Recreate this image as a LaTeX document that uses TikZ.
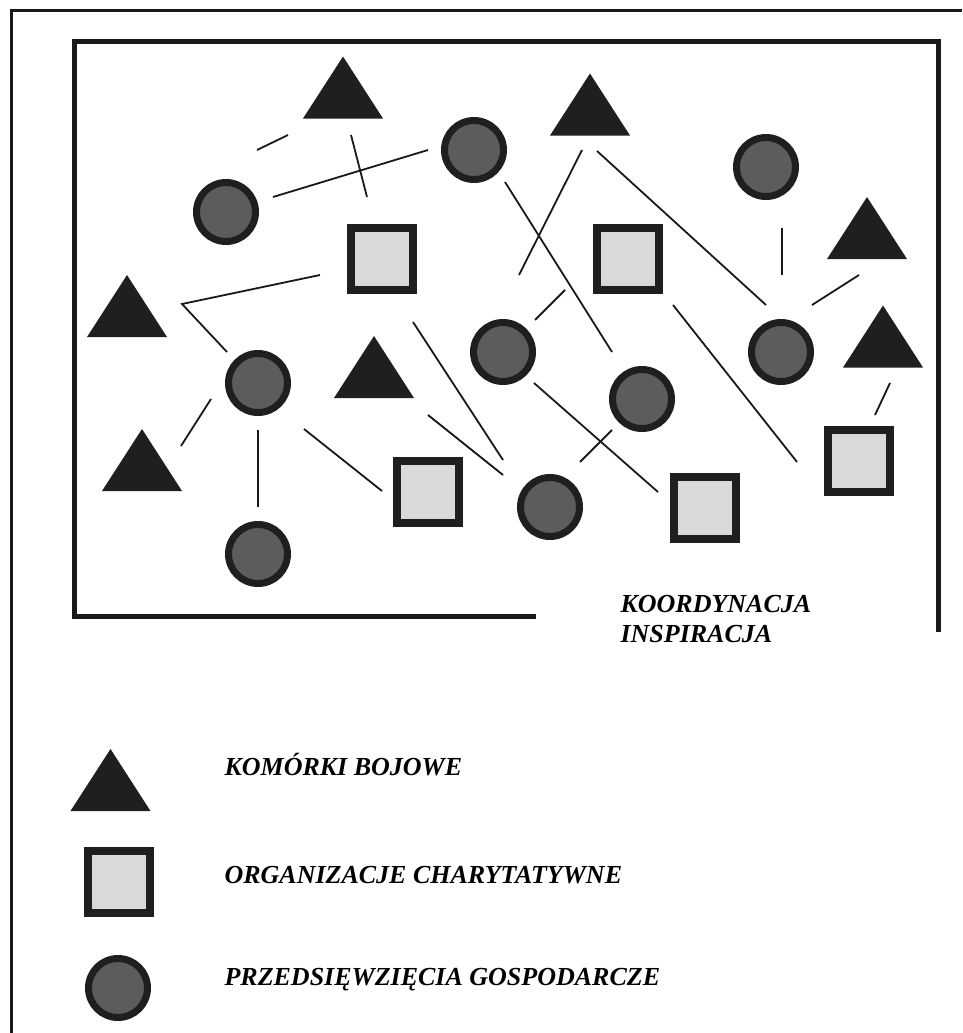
\documentclass[tikz,border=0pt]{standalone}
\usepackage{fontspec}
\setmainfont{Liberation Serif}
\usepackage{tikz}
\usetikzlibrary{positioning,calc}

\begin{document}
\begin{tikzpicture}[
  x=1pt, y=-1pt,
  outer/.style={line width=3pt, draw=black!90},
  frame/.style={line width=5pt, draw=black!90},
  link/.style={line width=1.8pt, draw=black!90},
  przed/.style={circle, draw=black!88, line width=7pt, fill=black!64,
               minimum size=59pt, inner sep=0pt},
  org/.style={rectangle, draw=black!88, line width=8pt, fill=black!15,
               minimum size=62pt, inner sep=0pt},
  pics/bojowa/.style={code={
      \fill[black!88] (-40,31) -- (40,31) -- (0,-31) -- cycle;
      \coordinate (-c) at (0,0);}},
  label/.style={anchor=base west, align=left,
               font=\fontsize{26}{30}\selectfont\bfseries\itshape}
]
\useasboundingbox (0,0) rectangle (962,1033);

% frames
\draw[outer] (11,1033) -- (11,11) -- (962,11);
\draw[frame] (536,616) -- (74,616) -- (74,42) -- (938,42) -- (938,632);

% komorki bojowe
\pic (t1) at (343,87.5) {bojowa};
\pic (t7) at (590,104.5) {bojowa};
\pic (t2) at (127,306) {bojowa};
\pic (t3) at (374,367) {bojowa};
\pic (t4) at (142,460) {bojowa};
\pic (t5) at (867,228) {bojowa};
\pic (t6) at (883,336.5) {bojowa};

% przedsiewziecia gospodarcze
\node[przed] (c1) at (226,212) {};
\node[przed] (c2) at (474,150) {};
\node[przed] (c3) at (258,383) {};
\node[przed] (c4) at (258,554) {};
\node[przed] (c5) at (550,507) {};
\node[przed] (c6) at (503,352) {};
\node[przed] (c7) at (766,167) {};
\node[przed] (c8) at (781,352) {};
\node[przed] (c9) at (642,399) {};

% organizacje charytatywne
\node[org] (s1) at (382,258.5) {};
\node[org] (s2) at (428,491.5) {};
\node[org] (s3) at (628,258.5) {};
\node[org] (s4) at (859,460.5) {};
\node[org] (s5) at (704.5,507.5) {};

% powiazania
\draw[link] ([shift={(31,-62)}]c1.center) -- ([shift={(-55,47.5)}]t1-c);
\draw[link] ([shift={(8,47.5)}]t1-c) -- ([shift={(-15,-61.5)}]s1.center);
\draw[link] ([shift={(47,-15)}]c1.center) -- ([shift={(-46,0)}]c2.center);
\draw[link] ([shift={(-62,16.5)}]s1.center) -- ([shift={(55,-2)}]t2-c)
  -- ([shift={(-31,-31)}]c3.center);
\draw[link] ([shift={(-47,16)}]c3.center) -- ([shift={(39,-14)}]t4-c);
\draw[link] ([shift={(0,47)}]c3.center) -- ([shift={(0,-47)}]c4.center);
\draw[link] ([shift={(46,46)}]c3.center) -- ([shift={(-46,-0.5)}]s2.center);
\draw[link] ([shift={(31,63.5)}]s1.center) -- ([shift={(-47,-47)}]c5.center);
\draw[link] ([shift={(54,48)}]t3-c) -- ([shift={(-47,-32)}]c5.center);
\draw[link] ([shift={(32,-32)}]c6.center) -- ([shift={(-63,31.5)}]s3.center);
\draw[link] ([shift={(31,32)}]c2.center) -- ([shift={(-30,-47)}]c9.center);
\draw[link] ([shift={(-8,45.5)}]t7-c) -- ([shift={(16,-77)}]c6.center);
\draw[link] ([shift={(7,46.5)}]t7-c) -- ([shift={(-15,-47)}]c8.center);
\draw[link] ([shift={(16,61)}]c7.center) -- ([shift={(1,-77)}]c8.center);
\draw[link] ([shift={(31,-47)}]c8.center) -- ([shift={(-8,47)}]t5-c);
\draw[link] ([shift={(7,46.5)}]t6-c) -- ([shift={(16,-45.5)}]s4.center);
\draw[link] ([shift={(45,46.5)}]s3.center) -- ([shift={(-62,1.5)}]s4.center);
\draw[link] ([shift={(-30,31)}]c9.center) -- ([shift={(30,-45)}]c5.center);
\draw[link] ([shift={(31,31)}]c6.center) -- ([shift={(-46.5,-15.5)}]s5.center);

\node[label] (koord) at (617,642) {KOORDYNACJA\\INSPIRACJA};

% legenda
\pic (tl) at (110.5,780) {bojowa};
\node[org] (sl) at (118.5,882) {};
\node[przed] (cl) at (118,988) {};
\node[label] (kom) at (221,775) {KOMÓRKI BOJOWE};
\node[label] (char) at (221,883) {ORGANIZACJE CHARYTATYWNE};
\node[label] (gosp) at (221,985) {PRZEDSIĘWZIĘCIA GOSPODARCZE};
\end{tikzpicture}
\end{document}
